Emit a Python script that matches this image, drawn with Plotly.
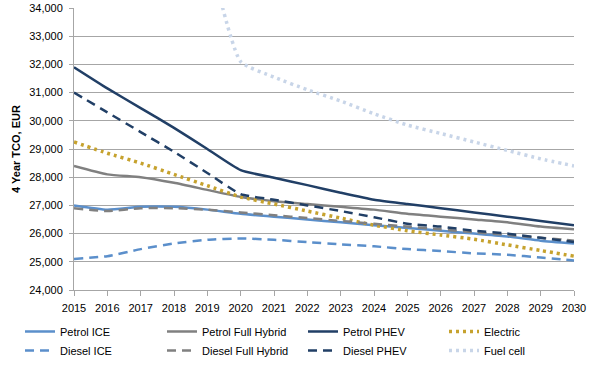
import plotly.graph_objects as go

years = list(range(2015, 2031))

petrol_ice = [27000, 26850, 26950, 26950, 26850, 26700, 26600, 26500, 26400, 26300, 26200, 26100, 26000, 25900, 25750, 25650]
petrol_fhev = [28400, 28100, 28000, 27800, 27550, 27300, 27150, 27050, 26950, 26850, 26700, 26600, 26500, 26400, 26250, 26150]
petrol_phev = [31900, 31150, 30450, 29750, 29000, 28250, 27980, 27720, 27450, 27200, 27050, 26900, 26750, 26600, 26450, 26300]
electric = [29250, 28850, 28500, 28100, 27700, 27300, 27050, 26800, 26550, 26300, 26100, 25950, 25800, 25600, 25400, 25200]
diesel_ice = [25100, 25200, 25450, 25650, 25780, 25830, 25780, 25700, 25620, 25550, 25450, 25380, 25300, 25250, 25150, 25050]
diesel_fhev = [26900, 26800, 26900, 26900, 26850, 26750, 26650, 26550, 26450, 26350, 26250, 26150, 26050, 25950, 25850, 25750]
diesel_phev = [31000, 30300, 29600, 28900, 28150, 27400, 27200, 27000, 26800, 26580, 26350, 26250, 26100, 26000, 25850, 25700]
fuel_cell = [None, None, None, None, 36200, 32100, 31550, 31100, 30700, 30250, 29850, 29550, 29250, 28950, 28650, 28400]

series = [
    ("Petrol ICE", petrol_ice, "#5B8FCB", "solid", 2.5, "legend"),
    ("Petrol Full Hybrid", petrol_fhev, "#808080", "solid", 2.5, "legend2"),
    ("Petrol PHEV", petrol_phev, "#213F66", "solid", 2.5, "legend3"),
    ("Electric", electric, "#C6A22E", "3px,4px", 3.5, "legend4"),
    ("Diesel ICE", diesel_ice, "#5B8FCB", "9px,6px", 2.5, "legend"),
    ("Diesel Full Hybrid", diesel_fhev, "#808080", "9px,6px", 2.5, "legend2"),
    ("Diesel PHEV", diesel_phev, "#213F66", "9px,6px", 2.5, "legend3"),
    ("Fuel cell", fuel_cell, "#C8D5E8", "3px,4px", 3.5, "legend4"),
]

fig = go.Figure()
for name, vals, color, dash, w, lg in series:
    fig.add_trace(go.Scatter(
        x=years, y=vals, name=name, mode="lines", legend=lg,
        line=dict(color=color, width=w, dash=dash, shape="spline", smoothing=0.5),
        connectgaps=False,
    ))

font = dict(family="Liberation Sans, Arial, sans-serif", size=11, color="#000000")
legend_common = dict(
    orientation="v", xanchor="left", yanchor="top",
    xref="paper", yref="container", y=0.1339,
    font=dict(family="Liberation Sans, Arial, sans-serif", size=11),
    itemwidth=30, bgcolor="rgba(0,0,0,0)", tracegroupgap=0,
)

fig.update_layout(
    width=597, height=366,
    margin=dict(l=74, r=23, t=8, b=76),
    paper_bgcolor="white", plot_bgcolor="white",
    font=font,
    showlegend=True,
    legend=dict(legend_common, x=-0.108),
    legend2=dict(legend_common, x=0.176),
    legend3=dict(legend_common, x=0.458),
    legend4=dict(legend_common, x=0.740),
)
fig.update_xaxes(
    type="linear", range=[2015, 2030], tickmode="array", tickvals=years,
    ticktext=[str(y) for y in years], automargin=False, ticklabelstandoff=3,
    showgrid=False, showline=True, linecolor="#A6A6A6", linewidth=1,
    ticks="outside", ticklen=5, tickcolor="#A6A6A6",
    zeroline=False,
)
fig.update_yaxes(
    range=[24000, 34000], dtick=1000, tickformat=",d", automargin=False,
    ticklabelstandoff=4,
    showgrid=True, gridcolor="#A6A6A6", gridwidth=1,
    showline=True, linecolor="#A6A6A6", linewidth=1,
    ticks="outside", ticklen=4, tickcolor="#A6A6A6",
    zeroline=False,
    title=dict(text="<b>4 Year TCO, EUR</b>", font=dict(size=11), standoff=6),
)

fig.write_html("out.html", config={"displayModeBar": False},
               post_script="document.body.style.margin='0';")
